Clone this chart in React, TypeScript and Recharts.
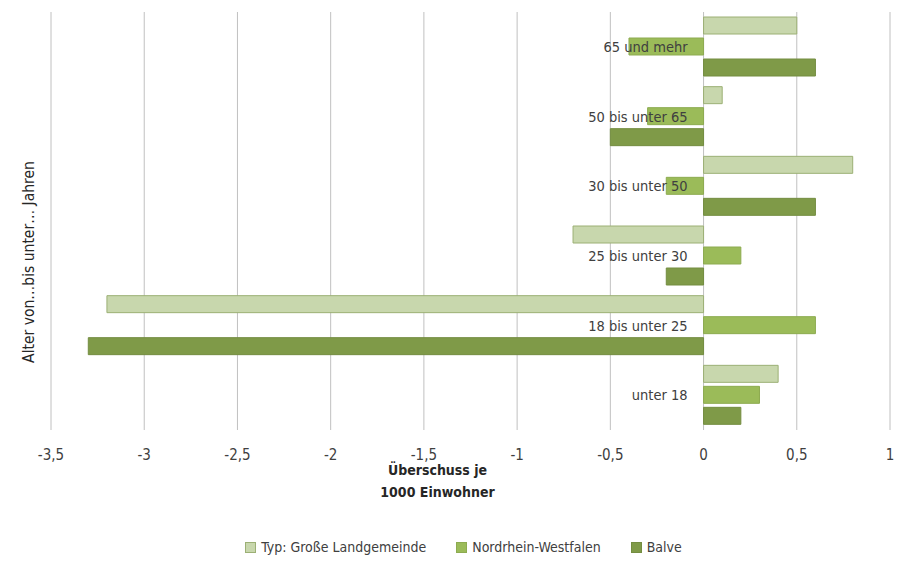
import {
  BarChart,
  Bar,
  XAxis,
  YAxis,
  CartesianGrid,
  Legend,
  Label,
} from "recharts";

const ageGroups = [
  "65 und mehr",
  "50 bis unter 65",
  "30 bis unter 50",
  "25 bis unter 30",
  "18 bis unter 25",
  "unter 18",
];
const landgemeinde = [0.5, 0.1, 0.8, -0.7, -3.2, 0.4];
const nrw = [-0.4, -0.3, -0.2, 0.2, 0.6, 0.3];
const balve = [0.6, -0.5, 0.6, -0.2, -3.3, 0.2];
const xTicks = [-3.5, -3, -2.5, -2, -1.5, -1, -0.5, 0, 0.5, 1];

const series = [
  { key: "landgemeinde", name: "Typ: Große Landgemeinde", fill: "#c8d7ad", stroke: "#9cb075" },
  { key: "nrw", name: "Nordrhein-Westfalen", fill: "#9bbb59", stroke: "#8dab50" },
  { key: "balve", name: "Balve", fill: "#7f9a48", stroke: "#748d41" },
];

const data = ageGroups.map((group, i) => ({
  group,
  landgemeinde: landgemeinde[i],
  nrw: nrw[i],
  balve: balve[i],
}));

const FONT = "'Liberation Sans Narrow', 'DejaVu Sans Condensed', 'Open Sans', sans-serif";
const W = 899;
const H = 563;
const Y_AXIS_W = 20;
const MARGIN = { top: 12, right: 9, left: 51 - Y_AXIS_W, bottom: 93 };
const X_MIN = -3.5;
const X_MAX = 1;
const PLOT_LEFT = MARGIN.left + Y_AXIS_W;
const PLOT_W = W - PLOT_LEFT - MARGIN.right;
// category labels sit just left of the zero line
const ZERO_X = PLOT_LEFT + ((0 - X_MIN) / (X_MAX - X_MIN)) * PLOT_W;

const fmt = (v: number) => String(v).replace(".", ",");

function CategoryTick(props: any) {
  const { y, payload } = props;
  return (
    <text
      x={ZERO_X - 16}
      y={y}
      dy={5}
      textAnchor="end"
      fill="#404040"
      fontSize={14.5}
      fontFamily={FONT}
    >
      {payload.value}
    </text>
  );
}

function XTitle(props: any) {
  const { viewBox } = props;
  const cx = viewBox.x + viewBox.width / 2 - 33;
  return (
    <text x={cx} textAnchor="middle" fill="#262626" fontSize={14} fontWeight={600} fontFamily={FONT}>
      <tspan x={cx} y={viewBox.y + 45}>Überschuss je</tspan>
      <tspan x={cx} y={viewBox.y + 67}>1000 Einwohner</tspan>
    </text>
  );
}

function YTitle(props: any) {
  const { viewBox } = props;
  const cy = viewBox.y + viewBox.height / 2 + 41;
  return (
    <text
      x={29}
      y={cy}
      textAnchor="middle"
      dominantBaseline="middle"
      transform={`rotate(-90, 29, ${cy})`}
      fill="#262626"
      fontSize={15.5}
      fontFamily={FONT}
    >
      Alter von…bis unter… Jahren
    </text>
  );
}

function LegendContent() {
  return (
    <div
      style={{
        display: "flex",
        justifyContent: "center",
        gap: 30,
        paddingLeft: 28,
        fontFamily: FONT,
        fontSize: 14,
        color: "#404040",
      }}
    >
      {series.map((s) => (
        <div key={s.key} style={{ display: "flex", alignItems: "center", gap: 5 }}>
          <span
            style={{
              width: 9,
              height: 9,
              background: s.fill,
              border: `1px solid ${s.stroke}`,
              display: "inline-block",
            }}
          />
          <span>{s.name}</span>
        </div>
      ))}
    </div>
  );
}

export default function App() {
  return (
    <div style={{ position: "absolute", left: 0, top: 0, background: "#fff" }}>
      <BarChart
        width={W}
        height={H}
        data={data}
        layout="vertical"
        margin={MARGIN}
        barCategoryGap={5}
        barGap={4}
      >
        <CartesianGrid horizontal={false} stroke="#c0c0c0" />
        <XAxis
          type="number"
          domain={[X_MIN, X_MAX]}
          ticks={xTicks}
          tickFormatter={fmt}
          axisLine={false}
          tickLine={false}
          tickMargin={13}
          height={40}
          tick={{ fill: "#404040", fontSize: 15, fontFamily: FONT }}
          allowDataOverflow
        >
          <Label content={<XTitle />} />
        </XAxis>
        {series.map((s) => (
          <Bar
            key={s.key}
            dataKey={s.key}
            name={s.name}
            fill={s.fill}
            stroke={s.stroke}
            strokeWidth={1}
            isAnimationActive={false}
          />
        ))}
        <YAxis
          type="category"
          dataKey="group"
          width={Y_AXIS_W}
          axisLine={false}
          tickLine={false}
          tick={CategoryTick}
          interval={0}
        >
          <Label content={<YTitle />} />
        </YAxis>
        <Legend
          layout="horizontal"
          verticalAlign="middle"
          align="center"
          content={<LegendContent />}
          wrapperStyle={{ top: 539, left: 0, width: W }}
        />
      </BarChart>
    </div>
  );
}
